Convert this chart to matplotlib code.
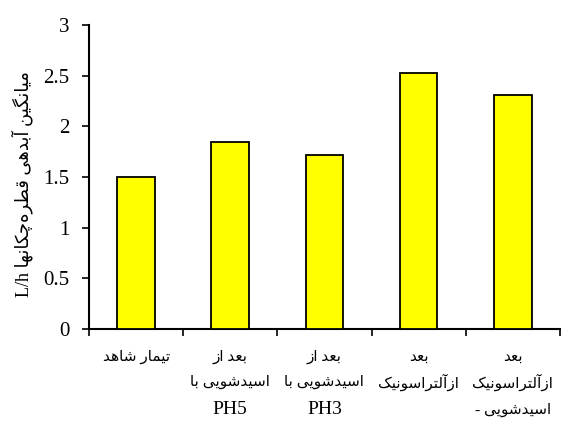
import matplotlib
matplotlib.use("Agg")
import matplotlib.pyplot as plt
import matplotlib.transforms as mtransforms

# ---------------- data ----------------
categories = [
    "تیمار شاهد",
    "بعد از\nاسیدشویی با\nPH5",
    "بعد از\nاسیدشویی با\nPH3",
    "بعد\nازآلتراسونیک",
    "بعد\nازآلتراسونیک\n- اسیدشویی",
]
values = [1.5, 1.85, 1.72, 2.53, 2.31]
yticks = [0, 0.5, 1, 1.5, 2, 2.5, 3]
ylabel_fa = "میانگین آبدهی قطره‌چکانها"
ylabel_unit = "L/h"

# ---------------- minimal persian shaping (no bidi libs available) ----------------
# letter: (isolated, final, initial, medial); None for initial/medial = right-joining only
FORMS = {
    "ا": (0xFE8D, 0xFE8E, None, None),
    "آ": (0xFE81, 0xFE82, None, None),
    "ب": (0xFE8F, 0xFE90, 0xFE91, 0xFE92),
    "پ": (0xFB56, 0xFB57, 0xFB58, 0xFB59),
    "ت": (0xFE95, 0xFE96, 0xFE97, 0xFE98),
    "چ": (0xFB7A, 0xFB7B, 0xFB7C, 0xFB7D),
    "ح": (0xFEA1, 0xFEA2, 0xFEA3, 0xFEA4),
    "د": (0xFEA9, 0xFEAA, None, None),
    "ر": (0xFEAD, 0xFEAE, None, None),
    "ز": (0xFEAF, 0xFEB0, None, None),
    "س": (0xFEB1, 0xFEB2, 0xFEB3, 0xFEB4),
    "ش": (0xFEB5, 0xFEB6, 0xFEB7, 0xFEB8),
    "ط": (0xFEC1, 0xFEC2, 0xFEC3, 0xFEC4),
    "ع": (0xFEC9, 0xFECA, 0xFECB, 0xFECC),
    "ق": (0xFED5, 0xFED6, 0xFED7, 0xFED8),
    "ک": (0xFB8E, 0xFB8F, 0xFB90, 0xFB91),
    "گ": (0xFB92, 0xFB93, 0xFB94, 0xFB95),
    "ل": (0xFEDD, 0xFEDE, 0xFEDF, 0xFEE0),
    "م": (0xFEE1, 0xFEE2, 0xFEE3, 0xFEE4),
    "ن": (0xFEE5, 0xFEE6, 0xFEE7, 0xFEE8),
    "ه": (0xFEE9, 0xFEEA, 0xFEEB, 0xFEEC),
    "و": (0xFEED, 0xFEEE, None, None),
    "ی": (0xFBFC, 0xFBFD, 0xFBFE, 0xFBFF),
}


def joins_next(c):
    return c in FORMS and FORMS[c][2] is not None


def shape(word):
    out = []
    chars = list(word)
    for i, c in enumerate(chars):
        if c not in FORMS:
            if c != "\u200c":
                out.append(c)
            continue
        prev_j = i > 0 and joins_next(chars[i - 1])
        next_j = i + 1 < len(chars) and chars[i + 1] in FORMS and joins_next(c)
        iso, fin, ini, med = FORMS[c]
        if prev_j and next_j:
            out.append(chr(med))
        elif prev_j:
            out.append(chr(fin))
        elif next_j:
            out.append(chr(ini))
        else:
            out.append(chr(iso))
    return "".join(out)


def is_fa(line):
    return any(ch in FORMS for ch in line)


def fa_line(line):
    if not is_fa(line):
        return line
    if line.startswith("- "):
        return "- " + shape(line[2:])[::-1]
    return shape(line)[::-1]


# ---------------- plot ----------------
plt.rcParams["font.family"] = ["Liberation Serif", "DejaVu Sans"]

fig = plt.figure(figsize=(5.61, 4.33), dpi=100)
ax = fig.add_axes([0.1586, 0.2402, 0.8394, 0.7021])

x = list(range(1, len(values) + 1))
ax.bar(x, values, width=0.4, color="#FFFF00", edgecolor="black", linewidth=1.3, zorder=3)

ax.set_xlim(0.5, len(values) + 0.5)
ax.set_ylim(0, 3)
ax.set_yticks(yticks)
ax.set_yticklabels([f"{t:g}" for t in yticks], fontsize=15)

# ticks at category boundaries, labels written line by line below
ax.set_xticks([i + 0.5 for i in range(len(values) + 1)])
ax.set_xticklabels([])
ax.tick_params(axis="x", length=5, width=1.2, direction="out")
ax.tick_params(axis="y", length=5, width=1.2, direction="out", pad=9)

trans = mtransforms.blended_transform_factory(ax.transData, fig.transFigure)
line_y = [1 - 357 / 433, 1 - 382 / 433, 1 - 410 / 433]
for xi, cat in zip(x, categories):
    for j, line in enumerate(cat.split("\n")):
        fs = 11 if is_fa(line) else 14
        ax.text(xi, line_y[j], fa_line(line), transform=trans, ha="center",
                va="center", fontsize=fs, clip_on=False)

for s in ["top", "right"]:
    ax.spines[s].set_visible(False)
for s in ["left", "bottom"]:
    ax.spines[s].set_linewidth(1.5)

fig.text(0.039, 0.575, ylabel_unit + " " + fa_line(ylabel_fa), rotation=90,
         ha="center", va="center", fontsize=13)

fig.savefig("out.png", dpi=100)
